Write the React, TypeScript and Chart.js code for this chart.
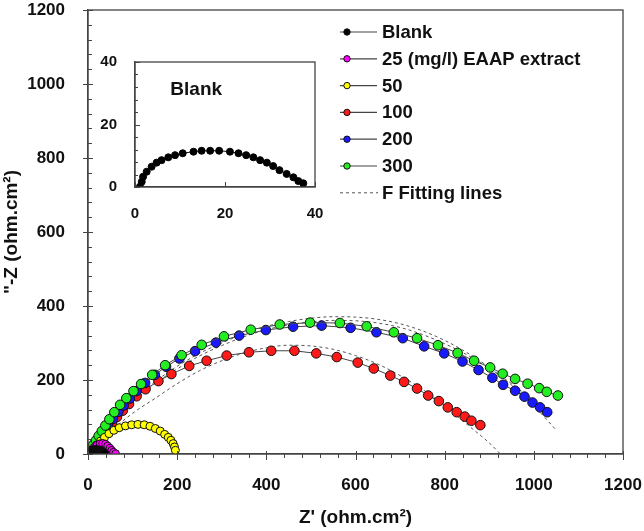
import { useEffect, useRef } from 'react';
import { Chart, registerables } from 'chart.js';

Chart.register(...registerables);

const FONT = '"Liberation Sans", Arial, sans-serif';
const AXIS = '#444';

// Blank (inset and main)
const blankX = [1.1, 1.5, 1.8, 2.6, 3.7, 4.8, 5.9, 7.4, 8.9, 10.6, 13, 14.8, 16.7, 18.7, 21.1, 23, 24.7, 26.3, 27.8, 29.3, 30.7, 32.1, 33.7, 35.2, 36.3, 37.4];
const blankY = [0.1, 1.7, 3.3, 4.9, 6.5, 7.8, 8.6, 9.5, 10.2, 10.8, 11.3, 11.6, 11.6, 11.6, 11.3, 10.8, 10.2, 9.5, 8.6, 7.8, 6.7, 5.4, 4.2, 3.1, 1.9, 1.2];

// 25 (mg/l)
const c25X = [3, 8, 14, 20, 27, 33, 39, 44, 49, 53, 57, 62];
const c25Y = [2, 10, 18, 24, 28, 29, 27, 22, 16, 10, 5, 1];

// 50
const c50X = [5, 12, 20, 28, 37, 47, 58, 70, 84, 98, 112, 126, 139, 151, 162, 172, 180, 186, 191, 194, 196];
const c50Y = [5, 15, 25, 35, 45, 55, 64, 71, 76, 79, 80, 79, 75, 69, 62, 53, 45, 37, 28, 19, 10];

// 100
const c100X = [2, 5, 9, 14, 20, 27, 35, 44, 54, 65, 78, 92, 109, 129, 158, 187, 227, 266, 311, 361, 411, 463, 512, 558, 605, 641, 678, 709, 738, 763, 787, 807, 827, 845, 860, 880];
const c100Y = [3, 8, 15, 24, 34, 45, 57, 70, 85, 100, 117, 135, 156, 175, 197, 216, 238, 252, 266, 275, 279, 279, 272, 262, 247, 231, 212, 195, 177, 158, 143, 126, 113, 101, 90, 78];

// 200
const c200X = [3, 6, 10, 15, 21, 28, 36, 45, 56, 68, 80, 94, 109, 128, 150, 175, 205, 240, 287, 339, 399, 460, 524, 589, 647, 706, 754, 799, 840, 876, 907, 931, 958, 979, 997, 1014, 1030];
const c200Y = [4, 10, 18, 28, 38, 50, 63, 78, 95, 114, 131, 150, 170, 192, 214, 236, 258, 278, 301, 320, 335, 344, 347, 341, 329, 313, 291, 272, 250, 227, 206, 187, 171, 155, 139, 126, 113];

// 300
const c300X = [3, 7, 12, 18, 24, 31, 39, 48, 59, 72, 86, 102, 119, 144, 173, 210, 255, 305, 365, 430, 498, 565, 625, 686, 738, 785, 829, 866, 902, 930, 958, 986, 1012, 1029, 1054];
const c300Y = [5, 14, 25, 37, 49, 62, 77, 94, 113, 133, 151, 170, 189, 214, 240, 267, 295, 318, 336, 350, 355, 354, 345, 329, 313, 294, 273, 252, 234, 217, 203, 190, 178, 168, 158];

// fitting lines
const fit100X = [0, 25, 50, 100, 150, 200, 250, 300, 350, 400, 450, 500, 550, 600, 650, 700, 750, 800, 850, 900, 925];
const fit100Y = [0, 30, 60, 110, 150, 190, 225, 252, 273, 287, 294, 292, 283, 266, 243, 212, 175, 130, 80, 30, 0];
const fit200X = [0, 25, 50, 100, 150, 200, 250, 300, 350, 400, 450, 500, 550, 600, 650, 700, 750, 800, 850, 900, 950, 1000, 1045];
const fit200Y = [0, 42, 80, 140, 190, 230, 265, 293, 317, 336, 349, 357, 361, 360, 354, 342, 323, 298, 268, 232, 190, 145, 110];
const fit300X = [0, 25, 50, 100, 150, 200, 250, 300, 350, 400, 450, 500, 550, 600, 650, 700, 750, 800, 850, 900, 950, 1000, 1050];
const fit300Y = [0, 45, 85, 145, 195, 237, 272, 300, 325, 345, 358, 367, 371, 370, 364, 352, 333, 307, 274, 234, 186, 130, 65];

const pts = (xs: number[], ys: number[]) => xs.map((x, i) => ({ x, y: ys[i] }));

const series = [
  { label: 'Blank', xs: blankX, ys: blankY, color: '#000000', r: 4, order: 0 },
  { label: '25 (mg/l) EAAP extract', xs: c25X, ys: c25Y, color: '#ff00ff', r: 3.8, order: 1 },
  { label: '50', xs: c50X, ys: c50Y, color: '#ffff00', r: 4, order: 2 },
  { label: '100', xs: c100X, ys: c100Y, color: '#ff1a1a', r: 4.8, order: 5 },
  { label: '200', xs: c200X, ys: c200Y, color: '#1a1aff', r: 4.8, order: 4 },
  { label: '300', xs: c300X, ys: c300Y, color: '#22ee22', r: 4.8, order: 3 },
];

const fits = [
  { xs: fit100X, ys: fit100Y },
  { xs: fit200X, ys: fit200Y },
  { xs: fit300X, ys: fit300Y },
];

// draws frame plus major/minor tick marks
const frameTicks = (minorX: number, majorX: number, minorY: number, majorY: number, inward: boolean) => ({
  id: 'frameTicks',
  afterDraw(chart: any) {
    const { ctx, chartArea: a, scales } = chart;
    const x = scales.x;
    const y = scales.y;
    ctx.save();
    ctx.strokeStyle = AXIS;
    ctx.lineWidth = 1.3;
    ctx.strokeRect(a.left, a.top, a.right - a.left, a.bottom - a.top);
    ctx.lineWidth = 1;
    ctx.beginPath();
    for (let v = x.min; v <= x.max + 1e-6; v += minorX) {
      const px = Math.round(x.getPixelForValue(v)) + 0.5;
      const major = Math.abs(v % majorX) < 1e-6;
      if (inward) {
        ctx.moveTo(px, a.bottom);
        ctx.lineTo(px, a.bottom - (major ? 5 : 3));
      } else {
        ctx.moveTo(px, a.bottom - (major ? 3 : 0));
        ctx.lineTo(px, a.bottom + (major ? 6 : 4));
      }
    }
    for (let v = y.min; v <= y.max + 1e-6; v += minorY) {
      const py = Math.round(y.getPixelForValue(v)) + 0.5;
      const major = Math.abs(v % majorY) < 1e-6;
      if (inward) {
        ctx.moveTo(a.left, py);
        ctx.lineTo(a.left + (major ? 5 : 3), py);
      } else {
        ctx.moveTo(a.left - (major ? 5 : 0), py);
        ctx.lineTo(a.left + (major ? 5 : 4), py);
      }
    }
    ctx.stroke();
    ctx.restore();
  },
});

const legendPlugin = {
  id: 'customLegend',
  afterDraw(chart: any) {
    const { ctx, chartArea: a } = chart;
    const x0 = a.left + 252;
    const y0 = a.top + 22;
    const step = 26.8;
    ctx.save();
    ctx.font = `bold 18.5px ${FONT}`;
    ctx.textBaseline = 'middle';
    ctx.fillStyle = '#111';
    series.forEach((s, i) => {
      const yy = y0 + i * step;
      ctx.strokeStyle = AXIS;
      ctx.lineWidth = 1.2;
      ctx.beginPath();
      ctx.moveTo(x0, yy);
      ctx.lineTo(x0 + 37, yy);
      ctx.stroke();
      ctx.beginPath();
      ctx.arc(x0 + 7, yy, 3.2, 0, Math.PI * 2);
      ctx.fillStyle = s.color;
      ctx.fill();
      ctx.strokeStyle = '#111';
      ctx.lineWidth = 1;
      ctx.stroke();
      ctx.fillStyle = '#111';
      ctx.fillText(s.label, x0 + 42, yy + 1);
    });
    const yy = y0 + series.length * step;
    ctx.strokeStyle = '#555';
    ctx.lineWidth = 1;
    ctx.setLineDash([3, 3]);
    ctx.beginPath();
    ctx.moveTo(x0, yy);
    ctx.lineTo(x0 + 38, yy);
    ctx.stroke();
    ctx.setLineDash([]);
    ctx.fillText('F Fitting lines', x0 + 42, yy + 1);
    ctx.restore();
  },
};

const insetLabel = {
  id: 'insetLabel',
  afterDraw(chart: any) {
    const { ctx, scales } = chart;
    ctx.save();
    ctx.font = `bold 19px ${FONT}`;
    ctx.fillStyle = '#111';
    ctx.textAlign = 'center';
    ctx.textBaseline = 'middle';
    ctx.fillText('Blank', scales.x.getPixelForValue(13.6), scales.y.getPixelForValue(31));
    ctx.restore();
  },
};

const tickFont = (size: number) => ({ family: FONT, size, weight: 'bold' as const });
const plain = (v: any) => String(v);

// keep the chart area fixed: no extra padding from tick labels
const fixH = (h: number) => (s: any) => { s.height = h; s.paddingLeft = 0; s.paddingRight = 0; };
const fixW = (w: number) => (s: any) => { s.width = w; s.paddingTop = 0; s.paddingBottom = 0; };

export default function App() {
  const mainRef = useRef<HTMLCanvasElement>(null);
  const insetRef = useRef<HTMLCanvasElement>(null);

  useEffect(() => {
    if (!mainRef.current || !insetRef.current) return;

    const datasets: any[] = [
      ...fits.map((f) => ({
        label: '',
        data: pts(f.xs, f.ys),
        showLine: true,
        borderColor: '#555',
        borderWidth: 1,
        borderDash: [3, 3],
        pointRadius: 0,
        cubicInterpolationMode: 'monotone',
        order: 10,
      })),
      ...series.map((s) => ({
        label: s.label,
        data: pts(s.xs, s.ys),
        showLine: true,
        borderColor: AXIS,
        borderWidth: 1,
        pointRadius: s.r,
        pointBackgroundColor: s.color,
        pointBorderColor: '#111',
        pointBorderWidth: 1,
        order: s.order,
      })),
    ];

    const main = new Chart(mainRef.current, {
      type: 'scatter',
      data: { datasets },
      options: {
        animation: false,
        responsive: false,
        layout: { padding: { left: 0, top: 10, right: 21, bottom: 0 } },
        plugins: { legend: { display: false }, tooltip: { enabled: false } },
        scales: {
          x: {
            type: 'linear',
            min: 0,
            max: 1200,
            afterFit: fixH(77),
            ticks: { stepSize: 200, padding: 13, color: '#111', font: tickFont(17), maxRotation: 0, callback: plain },
            grid: { display: false },
            border: { display: true, color: AXIS, width: 1.3 },
            title: { display: true, text: "Z' (ohm.cm²)", color: '#111', font: tickFont(19), padding: { top: 0, bottom: 2 } },
          },
          y: {
            type: 'linear',
            min: 0,
            max: 1200,
            afterFit: fixW(88),
            ticks: { stepSize: 200, padding: 15, color: '#111', font: tickFont(17), callback: plain },
            grid: { display: false },
            border: { display: true, color: AXIS, width: 1.3 },
            title: { display: true, text: '"-Z (ohm.cm²)', color: '#111', font: tickFont(19), padding: { top: 0, bottom: 0 } },
          },
        },
      } as any,
      plugins: [frameTicks(40, 200, 40, 200, false), legendPlugin],
    });

    const inset = new Chart(insetRef.current, {
      type: 'scatter',
      data: {
        datasets: [
          {
            label: 'Blank',
            data: pts(blankX, blankY),
            showLine: true,
            borderColor: '#111',
            borderWidth: 1,
            pointRadius: 3.5,
            pointBackgroundColor: '#000',
            pointBorderColor: '#000',
          },
        ],
      },
      options: {
        animation: false,
        responsive: false,
        layout: { padding: { left: 0, top: 12, right: 10, bottom: 0 } },
        plugins: { legend: { display: false }, tooltip: { enabled: false } },
        scales: {
          x: {
            type: 'linear',
            min: 0,
            max: 40,
            afterFit: fixH(38),
            ticks: { stepSize: 20, padding: 10, color: '#111', font: tickFont(15), maxRotation: 0, callback: plain },
            grid: { display: false },
            border: { display: true, color: AXIS, width: 1.3 },
          },
          y: {
            type: 'linear',
            min: 0,
            max: 40,
            afterFit: fixW(40),
            ticks: { stepSize: 20, padding: 10, color: '#111', font: tickFont(15), callback: plain },
            grid: { display: false },
            border: { display: true, color: AXIS, width: 1.3 },
          },
        },
      } as any,
      plugins: [frameTicks(20, 20, 4, 20, true), insetLabel],
    });

    return () => {
      main.destroy();
      inset.destroy();
    };
  }, []);

  return (
    <div style={{ position: 'fixed', left: 0, top: 0, width: 644, height: 531, background: '#fff' }}>
      <canvas ref={mainRef} width={644} height={531} style={{ position: 'absolute', left: 0, top: 0 }} />
      <canvas ref={insetRef} width={230} height={175} style={{ position: 'absolute', left: 95, top: 50 }} />
    </div>
  );
}
